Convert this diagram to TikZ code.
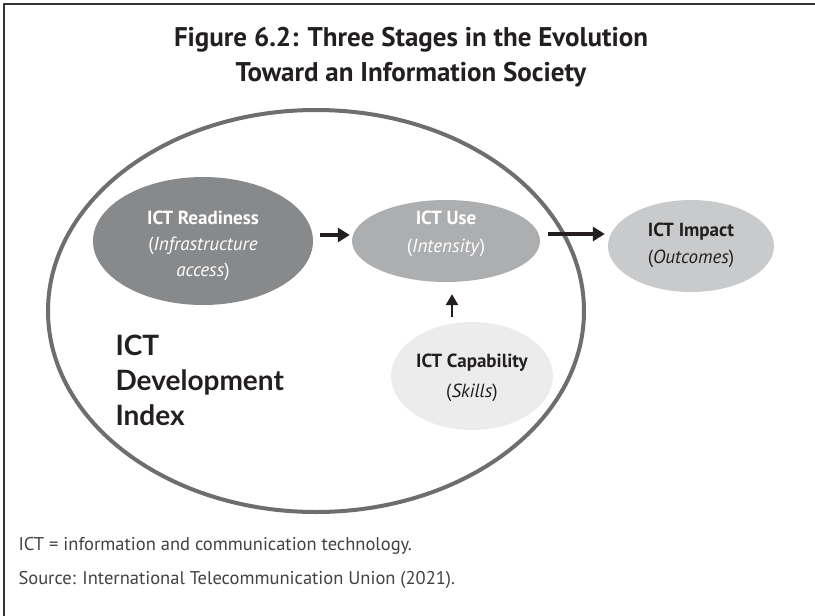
\documentclass[tikz,border=0pt]{standalone}
\usepackage{fontspec}
\setmainfont{PT Sans}
\newfontfamily\idxfont{Lato}
\usetikzlibrary{arrows.meta,shapes.geometric}
\definecolor{ringgray}{HTML}{6E6E6E}
\definecolor{readygray}{HTML}{88898B}
\definecolor{usegray}{HTML}{ADAEB0}
\definecolor{impactgray}{HTML}{C9CACB}
\definecolor{capgray}{HTML}{ECECEC}
\definecolor{inkblack}{HTML}{231F20}

\begin{document}
\begin{tikzpicture}[x=1pt,y=-1pt,line cap=round,line join=round,
	stage/.style={ellipse,draw=none,inner sep=0pt},
	bigarrow/.style={line width=4pt,line cap=butt,-{Triangle[length=12pt,width=14pt]},color=inkblack},
	thinarrow/.style={line width=2.8pt,line cap=butt,-{Triangle[length=11pt,width=12pt]},color=inkblack}]
		\useasboundingbox (0,0) rectangle (815,616);
		\fill[white] (0,0) rectangle (815,616);
		\draw [line width=1.2pt,color=black!80] (4,616)-- (4,4)-- (815,4);
		\node[align=center,color=inkblack,font=\fontsize{27}{35}\selectfont\bfseries] (title) at (411,57) {Figure 6.2: Three Stages in the Evolution\\Toward an Information Society};
		% outer ring
		\draw [line width=4pt,color=ringgray] (316,311) ellipse (268 and 201);
		\node[stage,fill=readygray,minimum width=220pt,minimum height=128pt] (ready) at (203,241) {};
		\node[stage,fill=usegray,minimum width=188pt,minimum height=82pt] (use) at (446,241) {};
		\node[stage,fill=impactgray,minimum width=166pt,minimum height=92pt] (impact) at (691,246) {};
		\node[stage,fill=capgray,minimum width=162pt,minimum height=108pt] (cap) at (472,376) {};
		\node[align=center,text=white,font=\fontsize{19}{26}\selectfont] at (203,246) {\textbf{ICT Readiness}\\(\textit{Infrastructure}\\\textit{access})};
		\node[align=center,text=white,font=\fontsize{19}{28}\selectfont] at (446,234) {\textbf{ICT Use}\\(\textit{Intensity})};
		\node[align=center,text=inkblack,font=\fontsize{19}{27}\selectfont] at (691,245) {\textbf{ICT Impact}\\(\textit{Outcomes})};
		\node[align=center,text=inkblack,font=\fontsize{19}{30}\selectfont] at (472,378) {\textbf{ICT Capability}\\(\textit{Skills})};
		\draw[bigarrow,shorten <=7pt,shorten >=2pt] ([yshift=6pt]ready.east) -- ([yshift=6pt]use.west);
		\draw[bigarrow,shorten <=8pt,shorten >=3pt] ([yshift=7pt]use.east) -- ([yshift=7pt]use.east -| impact.west);
		\draw[thinarrow,shorten <=5pt,shorten >=12pt] ([xshift=-20pt]cap.north) -- ([xshift=-20pt]cap.north |- use.south);
		\node[anchor=west,align=left,color=inkblack,font=\idxfont\fontsize{28}{35}\selectfont\bfseries] (idx) at (112,380) {ICT\\Development\\Index};
		\node[anchor=west,color=inkblack!85,font=\fontsize{18.5}{20}\selectfont] (note) at (15,546) {ICT = information and communication technology.};
		\node[anchor=west,color=inkblack!85,font=\fontsize{18.5}{20}\selectfont] (src) at (15,580) {Source: International Telecommunication Union (2021).};
	\end{tikzpicture}
\end{document}
